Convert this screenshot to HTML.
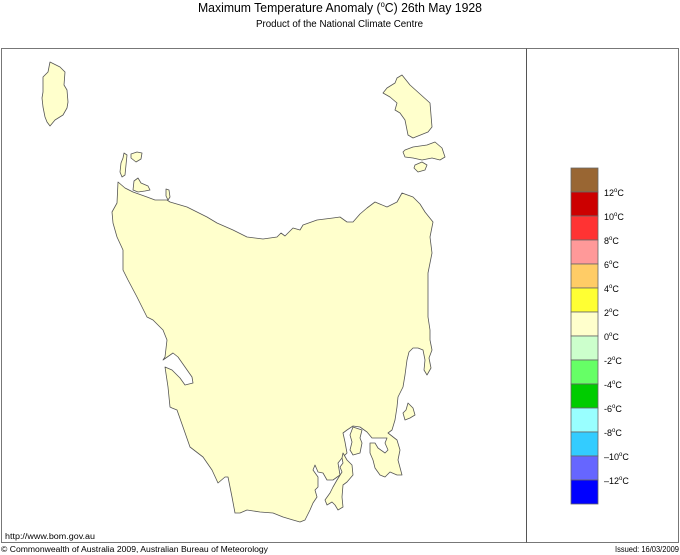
<!DOCTYPE html>
<html><head><meta charset="utf-8"><style>
html,body{margin:0;padding:0;background:#fff;}
svg{display:block;}
text{font-family:"Liberation Sans",Arial,sans-serif;fill:#000;}
</style></head><body>
<svg width="680" height="555" viewBox="0 0 680 555" xmlns="http://www.w3.org/2000/svg">
<rect x="0" y="0" width="680" height="555" fill="#fff"/>
<!-- Title -->
<text x="198" y="12" font-size="13" textLength="284" lengthAdjust="spacingAndGlyphs">Maximum Temperature Anomaly (<tspan font-size="8" dy="-5">o</tspan><tspan dy="5">C)  26th May 1928</tspan></text>
<text x="256" y="27" font-size="10" textLength="167" lengthAdjust="spacingAndGlyphs">Product of the National Climate Centre</text>
<!-- Frame -->
<rect x="1.5" y="48.5" width="677" height="494" fill="none" stroke="#777" stroke-width="1"/>
<line x1="526.5" y1="48.5" x2="526.5" y2="542.5" stroke="#555" stroke-width="1"/>
<!-- Map -->
<g fill="#ffffcc" stroke="#555" stroke-width="0.8" stroke-linejoin="round">
<path d="M118,182 L125,188 L133,192 L147,197 L155,200 L167,200 L170,202 L187,207 L207,217 L217,223 L233,230 L247,237 L263,239 L277,237 L281,233 L285,236 L293,228 L300,230 L303,225 L317,220 L333,218 L340,217 L347,222 L353,222 L360,214 L367,208 L375,202 L387,207 L397,202 L402,193 L413,197 L420,204 L425,212 L433,222 L430,237 L432,253 L428,273 L428,293 L428,317 L430,330 L430,340 L432,350 L429,358 L431,368 L427,375 L424,370 L425,360 L423,350 L418,348 L413,348 L409,352 L407,360 L405,375 L403,387 L398,397 L397,407 L395,420 L392,430 L388,433 L397,440 L400,450 L398,460 L402,475 L397,475 L390,472 L385,477 L380,475 L375,468 L373,460 L370,453 L370,443 L375,443 L378,448 L385,453 L388,450 L385,443 L387,438 L383,438 L372,438 L367,432 L360,427 L353,426 L347,430 L343,433 L345,442 L347,453 L342,458 L338,463 L340,475 L333,480 L327,480 L323,473 L318,472 L315,465 L313,470 L318,477 L318,487 L315,490 L317,497 L313,503 L310,510 L305,520 L300,522 L293,520 L283,517 L273,513 L260,512 L247,510 L240,513 L235,513 L232,497 L230,487 L228,477 L225,477 L218,483 L212,470 L203,457 L190,447 L183,427 L177,410 L172,408 L170,407 L168,387 L165,367 L172,370 L180,378 L185,385 L193,383 L192,377 L178,357 L173,353 L163,360 L165,357 L167,340 L163,330 L153,320 L147,317 L137,297 L128,280 L123,270 L123,250 L117,237 L113,223 L112,212 L117,203 Z"/>
<!-- South Arm -->
<path d="M353,427 L362,430 L360,438 L362,443 L360,453 L353,455 L350,450 L352,442 L350,435 Z"/>
<!-- Bruny Island -->
<path d="M343,453 L347,460 L352,465 L353,475 L347,482 L343,485 L342,497 L343,507 L338,510 L335,505 L332,502 L327,505 L325,500 L330,493 L333,487 L337,480 L342,472 L340,467 L343,463 L342,458 Z"/>
<!-- Maria Island -->
<path d="M408,403 L413,408 L415,415 L410,418 L405,420 L403,413 L406,410 Z"/>
<!-- NW islands -->
<path d="M124,153 L127,155 L126,165 L125,175 L122,177 L120,172 L121,163 L123,158 Z"/>
<path d="M131,154 L137,152 L142,153 L141,159 L136,162 L131,158 Z"/>
<path d="M134,181 L138,178 L141,183 L148,186 L150,190 L145,191 L138,192 L133,190 Z"/>
<path d="M166,189 L169,190 L170,197 L168,200 L166,196 Z"/>
<!-- King Island -->
<path d="M50,62 L60,67 L65,72 L64,85 L67,90 L68,102 L67,108 L63,115 L55,120 L50,126 L47,122 L45,117 L43,107 L42,98 L43,92 L43,77 L48,72 Z"/>
<!-- Flinders Island -->
<path d="M402,75 L410,85 L430,103 L432,127 L428,132 L413,138 L408,135 L405,120 L400,113 L395,110 L397,103 L390,97 L383,93 L387,88 L395,83 L397,78 Z"/>
<!-- Cape Barren -->
<path d="M405,150 L413,147 L427,145 L435,142 L442,148 L445,157 L440,160 L432,158 L422,160 L413,158 L405,157 L403,152 Z"/>
<!-- Clarke -->
<path d="M415,165 L422,162 L427,165 L425,170 L418,172 L414,168 Z"/>
</g>
<!-- Legend -->
<g stroke="#666" stroke-width="0.8">
<rect x="571" y="168" width="27" height="24" fill="#996633"/>
<rect x="571" y="192" width="27" height="24" fill="#cc0000"/>
<rect x="571" y="216" width="27" height="24" fill="#ff3333"/>
<rect x="571" y="240" width="27" height="24" fill="#ff9999"/>
<rect x="571" y="264" width="27" height="24" fill="#ffcc66"/>
<rect x="571" y="288" width="27" height="24" fill="#ffff33"/>
<rect x="571" y="312" width="27" height="24" fill="#ffffcc"/>
<rect x="571" y="336" width="27" height="24" fill="#ccffcc"/>
<rect x="571" y="360" width="27" height="24" fill="#66ff66"/>
<rect x="571" y="384" width="27" height="24" fill="#00cc00"/>
<rect x="571" y="408" width="27" height="24" fill="#99ffff"/>
<rect x="571" y="432" width="27" height="24" fill="#33ccff"/>
<rect x="571" y="456" width="27" height="24" fill="#6666ff"/>
<rect x="571" y="480" width="27" height="24" fill="#0000ff"/>
</g>
<g font-size="9">
<text x="604" y="196">12<tspan font-size="6" dy="-4">o</tspan><tspan dy="4">C</tspan></text>
<text x="604" y="220">10<tspan font-size="6" dy="-4">o</tspan><tspan dy="4">C</tspan></text>
<text x="604" y="244">8<tspan font-size="6" dy="-4">o</tspan><tspan dy="4">C</tspan></text>
<text x="604" y="268">6<tspan font-size="6" dy="-4">o</tspan><tspan dy="4">C</tspan></text>
<text x="604" y="292">4<tspan font-size="6" dy="-4">o</tspan><tspan dy="4">C</tspan></text>
<text x="604" y="316">2<tspan font-size="6" dy="-4">o</tspan><tspan dy="4">C</tspan></text>
<text x="604" y="340">0<tspan font-size="6" dy="-4">o</tspan><tspan dy="4">C</tspan></text>
<text x="604" y="364">-2<tspan font-size="6" dy="-4">o</tspan><tspan dy="4">C</tspan></text>
<text x="604" y="388">-4<tspan font-size="6" dy="-4">o</tspan><tspan dy="4">C</tspan></text>
<text x="604" y="412">-6<tspan font-size="6" dy="-4">o</tspan><tspan dy="4">C</tspan></text>
<text x="604" y="436">-8<tspan font-size="6" dy="-4">o</tspan><tspan dy="4">C</tspan></text>
<text x="604" y="460">–10<tspan font-size="6" dy="-4">o</tspan><tspan dy="4">C</tspan></text>
<text x="604" y="484">–12<tspan font-size="6" dy="-4">o</tspan><tspan dy="4">C</tspan></text>
</g>
<!-- Footer -->
<text x="5" y="539" font-size="8" textLength="90" lengthAdjust="spacingAndGlyphs">http://www.bom.gov.au</text>
<text x="1" y="552" font-size="8" textLength="267" lengthAdjust="spacingAndGlyphs">© Commonwealth of Australia 2009, Australian Bureau of Meteorology</text>
<text x="615" y="552" font-size="8" textLength="64" lengthAdjust="spacingAndGlyphs">Issued: 16/03/2009</text>
</svg>
</body></html>
